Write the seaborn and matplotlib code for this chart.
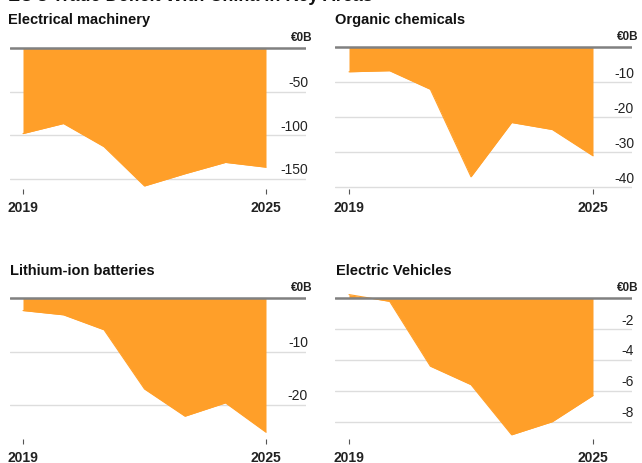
import matplotlib
matplotlib.use("Agg")
import pandas as pd
import matplotlib.pyplot as plt
import seaborn as sns

# ===================== DATOS =====================
YEARS = [2019, 2020, 2021, 2022, 2023, 2024, 2025]
MACHINERY = [-98, -86.5, -113, -158, -144, -131, -136.5]
ORGANIC = [-7.0, -6.7, -12, -37, -21.5, -23.5, -31]
BATTERIES = [-2.3, -3.1, -5.9, -17, -22.1, -19.6, -25.1]
EVS = [0.24, -0.2, -4.4, -5.6, -8.85, -8.0, -6.3]

TITLES = ["Electrical machinery", "Organic chemicals",
          "Lithium-ion batteries", "Electric Vehicles"]
GRIDS = [[-50, -100, -150], [-10, -20, -30, -40],
         [-10, -20], [-2, -4, -6, -8]]
HEADER = "EU's Trade Deficit With China in Key Areas"

# ===================== ESTILO =====================
sns.set_theme(style="white")
plt.rcParams['font.family'] = ['Liberation Sans', 'DejaVu Sans']

ORANGE = '#FF9F29'
W, H = 642, 464

fig = plt.figure(figsize=(W / 100, H / 100), dpi=100)

# caja de cada panel en pixeles: izq, der, arriba, abajo,
# x de 2019, x de 2025, y del cero, y de la ultima linea de rejilla
BOXES = [
    (10, 306, 38, 190, 23, 266, 49.0, 180.0),
    (335, 632, 38, 190, 349, 593, 48.3, 188.3),
    (10, 306, 288, 440, 23, 266, 299.3, 406.0),
    (335, 632, 288, 440, 349, 593, 299.3, 422.7),
]
TITLE_POS = [(8, 24), (335, 24), (10, 275), (336, 275)]

# titulo general, cortado arriba como en la imagen original
fig.text(8 / W, 1 - 1 / H, HEADER, fontsize=13, weight='bold',
         va='baseline', color='#111')

series = [MACHINERY, ORGANIC, BATTERIES, EVS]
for vals, grid, title, box, tpos in zip(series, GRIDS, TITLES, BOXES, TITLE_POS):
    L, R, T, B, x0, x1, py0, pyg = box
    ax = fig.add_axes([L / W, 1 - B / H, (R - L) / W, (B - T) / H])

    p = (x1 - x0) / 6
    ax.set_xlim(2019 - (x0 - L) / p, 2025 + (R - x1) / p)
    s = (pyg - py0) / (-grid[-1])
    ax.set_ylim(-(B - py0) / s, (py0 - T) / s)

    df = pd.DataFrame({'year': YEARS, 'value': vals})
    ax.fill_between(df['year'], df['value'], 0, color=ORANGE, lw=0, zorder=2)
    sns.lineplot(data=df, x='year', y='value', color=ORANGE, lw=0.8,
                 ax=ax, zorder=2)

    for g in grid:
        ax.axhline(g, color='#dddddd', lw=1, zorder=1)
        ax.annotate(f"{g:g}", xy=(1, g), xycoords=('axes fraction', 'data'),
                    xytext=(1.5, 4), textcoords='offset points',
                    ha='right', va='baseline', fontsize=10, color='#222')
    ax.axhline(0, color='#808080', lw=1.8, zorder=3)
    ax.annotate("€0B", xy=(1, 0), xycoords=('axes fraction', 'data'),
                xytext=(5, 6), textcoords='offset points',
                ha='right', va='baseline', fontsize=8.5, weight='bold',
                color='#222', annotation_clip=False)

    ax.set_xticks([2019, 2025])
    ax.set_xticklabels(['2019', '2025'], fontsize=10, weight='bold', color='#222')
    ax.set_yticks([])
    ax.tick_params(axis='x', bottom=True, length=3.6, width=0.8,
                   color='#555555', pad=4)
    ax.set_xlabel('')
    ax.set_ylabel('')
    for sp in ax.spines.values():
        sp.set_visible(False)

    fig.text(tpos[0] / W, 1 - tpos[1] / H, title, fontsize=10.5, weight='bold',
             va='baseline', color='#111')

fig.savefig('out.png', dpi=100, facecolor='white')
